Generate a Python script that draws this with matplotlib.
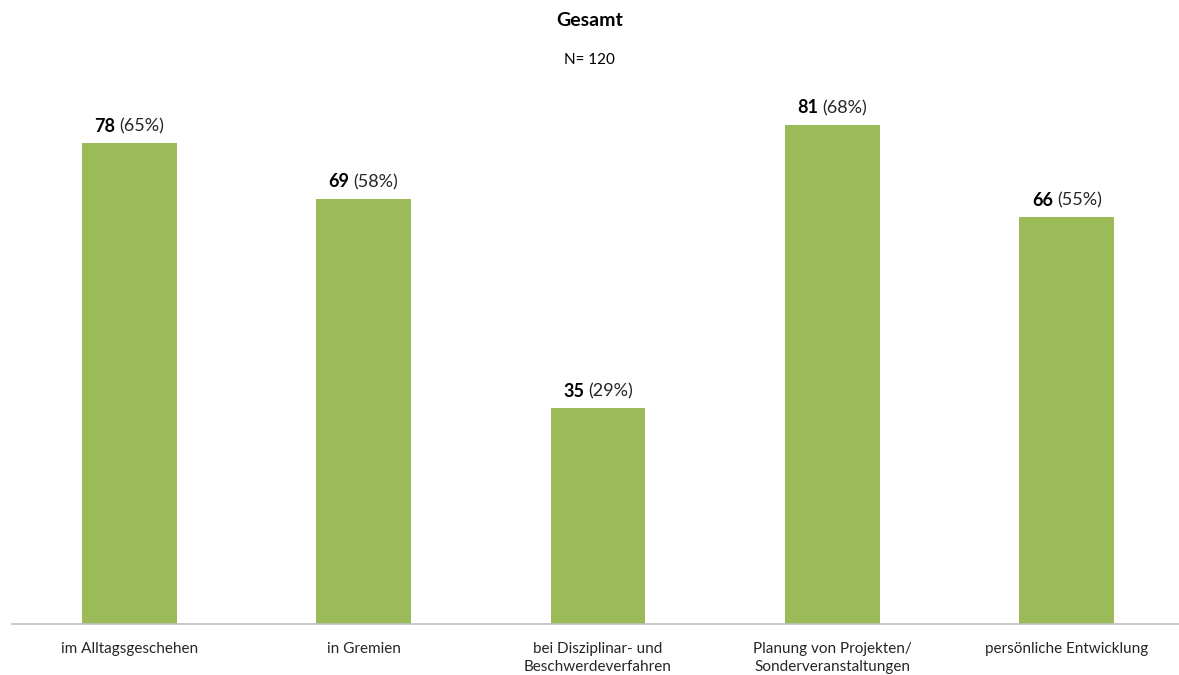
import matplotlib
matplotlib.use("Agg")
import matplotlib.pyplot as plt
from matplotlib.offsetbox import TextArea, HPacker, AnnotationBbox

# Daten
kategorien = ["im Alltagsgeschehen", "in Gremien", "bei Disziplinar- und\nBeschwerdeverfahren",
              "Planung von Projekten/\nSonderveranstaltungen", "persönliche Entwicklung"]
anzahl = [78, 69, 35, 81, 66]
prozent = [65, 58, 29, 68, 55]
n_gesamt = 120

plt.rcParams['font.family'] = ['Lato', 'DejaVu Sans']

fig = plt.figure(figsize=(11.79, 6.75), dpi=100)
# Achse: unten bei 624 px, Balkenabstand ~234.5 px
ax = fig.add_axes([12 / 1179, 51 / 675, 1172 / 1179, 555 / 675])

x = range(len(kategorien))
ax.bar(x, anzahl, width=0.405, color="#9BBB59")
ax.set_xlim(-0.5, 4.5)
ax.set_ylim(0, 90)

for sp in ["top", "left", "right"]:
    ax.spines[sp].set_visible(False)
ax.spines["bottom"].set_color("#BFBFBF")
ax.spines["bottom"].set_linewidth(1.2)
ax.set_yticks([])
ax.set_xticks(list(x))
ax.set_xticklabels(kategorien, fontsize=11, color="#262626", linespacing=1.35)
ax.tick_params(axis="x", length=0, pad=13)

# Beschriftung: fett Anzahl + (Prozent)
for xi, a, p in zip(x, anzahl, prozent):
    t1 = TextArea(str(a), textprops=dict(fontsize=13, fontweight="bold", color="black"))
    t2 = TextArea(f"({p}%)", textprops=dict(fontsize=13, color="#262626"))
    box = HPacker(children=[t1, t2], align="baseline", pad=0, sep=3)
    ab = AnnotationBbox(box, (xi, a), xybox=(0, 6), xycoords="data", boxcoords="offset points",
                        box_alignment=(0.5, 0), frameon=False)
    ax.add_artist(ab)

fig.text(0.5, 1 - 20 / 675, "Gesamt", ha="center", va="center", fontsize=14, fontweight="bold")
fig.text(0.5, 1 - 60 / 675, f"N= {n_gesamt}", ha="center", va="center", fontsize=11)

fig.savefig("out.png", dpi=100)
